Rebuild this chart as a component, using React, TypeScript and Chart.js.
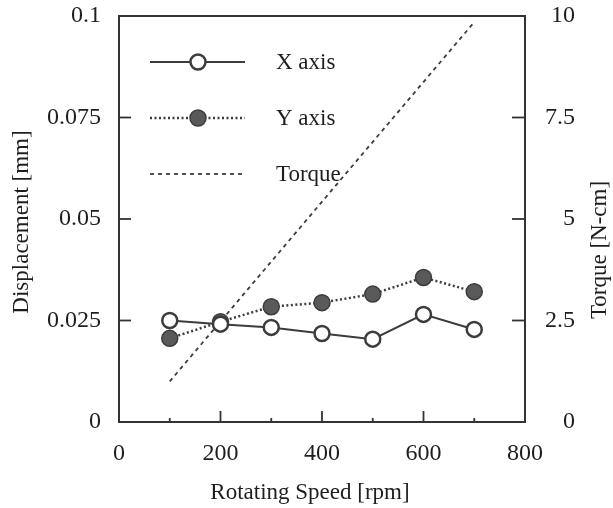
import { useEffect, useRef } from "react";
import { Chart, registerables } from "chart.js";

Chart.register(...registerables);

const rpm = [100, 200, 300, 400, 500, 600, 700];
const xAxisDisp = [0.025, 0.0241, 0.0233, 0.0218, 0.0204, 0.0265, 0.0228];
const yAxisDisp = [0.0206, 0.0247, 0.0284, 0.0294, 0.0315, 0.0356, 0.0321];
const torqueRpm = [100, 700];
const torqueVals = [1.0, 9.85];

const xTickLabels: Record<number, string> = { 0: "0", 200: "200", 400: "400", 600: "600", 800: "800" };
const yTickLabels = ["0", "0.025", "0.05", "0.075", "0.1"];
const y1TickLabels = ["0", "2.5", "5", "7.5", "10"];

const legendLabels = ["X axis", "Y axis", "Torque"];
const xTitle = "Rotating Speed [rpm]";
const yTitle = "Displacement [mm]";
const y1Title = "Torque [N-cm]";

const FONT = "'Liberation Serif', 'Times New Roman', serif";
const INK = "#1e1e1e";
const LINE = "#3c3c3c";

const zeroPad = (s: any) => {
  s.paddingTop = 0;
  s.paddingBottom = 0;
  s.paddingLeft = 0;
  s.paddingRight = 0;
};

export default function App() {
  const ref = useRef<HTMLCanvasElement>(null);

  useEffect(() => {
    if (!ref.current) return;

    const framePlugin = {
      id: "framePlugin",
      afterDatasetsDraw(chart: any) {
        const { ctx, chartArea: a, scales } = chart;
        ctx.save();
        ctx.strokeStyle = "#333";
        ctx.lineWidth = 2;
        ctx.setLineDash([]);
        ctx.strokeRect(a.left, a.top, a.right - a.left, a.bottom - a.top);
        ctx.lineWidth = 1.8;
        for (let v = 100; v < 800; v += 100) {
          const px = scales.x.getPixelForValue(v);
          const len = v % 200 === 0 ? 11 : 4;
          ctx.beginPath();
          ctx.moveTo(px, a.bottom);
          ctx.lineTo(px, a.bottom - len);
          ctx.stroke();
        }
        for (let i = 1; i < 4; i++) {
          const py = scales.y.getPixelForValue(i * 0.025);
          ctx.beginPath();
          ctx.moveTo(a.left, py);
          ctx.lineTo(a.left + 12, py);
          ctx.stroke();
          const py1 = scales.y1.getPixelForValue(i * 2.5);
          ctx.beginPath();
          ctx.moveTo(a.right, py1);
          ctx.lineTo(a.right - 13, py1);
          ctx.stroke();
        }
        ctx.restore();
      },
      afterDraw(chart: any) {
        const { ctx } = chart;
        ctx.save();
        ctx.fillStyle = INK;
        ctx.font = `23px ${FONT}`;
        ctx.textAlign = "center";
        ctx.textBaseline = "middle";
        ctx.fillText(xTitle, 310, 493);
        ctx.save();
        ctx.translate(22, 222);
        ctx.rotate(-Math.PI / 2);
        ctx.fillText(yTitle, 0, 0);
        ctx.restore();
        ctx.save();
        ctx.translate(600, 250);
        ctx.rotate(-Math.PI / 2);
        ctx.fillText(y1Title, 0, 0);
        ctx.restore();

        const rows = [62, 118, 174];
        const x0 = 150, x1 = 245, mx = 198;
        ctx.strokeStyle = LINE;
        ctx.lineWidth = 2;
        ctx.setLineDash([]);
        ctx.beginPath();
        ctx.moveTo(x0, rows[0]);
        ctx.lineTo(x1, rows[0]);
        ctx.stroke();
        ctx.fillStyle = "#fff";
        ctx.lineWidth = 2.5;
        ctx.beginPath();
        ctx.arc(mx, rows[0], 7.5, 0, Math.PI * 2);
        ctx.fill();
        ctx.stroke();
        ctx.lineWidth = 2.5;
        ctx.setLineDash([2, 2.5]);
        ctx.beginPath();
        ctx.moveTo(x0, rows[1]);
        ctx.lineTo(x1, rows[1]);
        ctx.stroke();
        ctx.setLineDash([]);
        ctx.fillStyle = "#5a5a5a";
        ctx.lineWidth = 1.5;
        ctx.strokeStyle = "#3c3c3c";
        ctx.beginPath();
        ctx.arc(mx, rows[1], 8, 0, Math.PI * 2);
        ctx.fill();
        ctx.stroke();
        ctx.strokeStyle = LINE;
        ctx.lineWidth = 1.8;
        ctx.setLineDash([4, 4]);
        ctx.beginPath();
        ctx.moveTo(x0, rows[2]);
        ctx.lineTo(x1, rows[2]);
        ctx.stroke();
        ctx.setLineDash([]);

        ctx.fillStyle = INK;
        ctx.font = `23px ${FONT}`;
        ctx.textAlign = "left";
        legendLabels.forEach((t, i) => ctx.fillText(t, 276, rows[i] + 1));
        ctx.restore();
      },
    };

    const tickFont = { family: FONT, size: 24 };

    const chart = new Chart(ref.current, {
      type: "line",
      data: {
        datasets: [
          {
            label: legendLabels[0],
            data: rpm.map((r, i) => ({ x: r, y: xAxisDisp[i] })),
            yAxisID: "y",
            borderColor: LINE,
            borderWidth: 2,
            pointRadius: 7.5,
            pointBorderWidth: 2.5,
            pointBackgroundColor: "#fff",
            pointBorderColor: LINE,
            order: 1,
          },
          {
            label: legendLabels[1],
            data: rpm.map((r, i) => ({ x: r, y: yAxisDisp[i] })),
            yAxisID: "y",
            borderColor: LINE,
            borderWidth: 2.5,
            borderDash: [2, 2.5],
            pointRadius: 8,
            pointBorderWidth: 1.5,
            pointBackgroundColor: "#5a5a5a",
            pointBorderColor: "#3c3c3c",
            order: 2,
          },
          {
            label: legendLabels[2],
            data: torqueRpm.map((r, i) => ({ x: r, y: torqueVals[i] })),
            yAxisID: "y1",
            borderColor: LINE,
            borderWidth: 1.8,
            borderDash: [4, 4],
            pointRadius: 0,
            order: 3,
          },
        ],
      },
      options: {
        animation: false,
        responsive: false,
        layout: { padding: { top: 16, right: 38, left: 0, bottom: 0 } },
        plugins: { legend: { display: false }, tooltip: { enabled: false } },
        scales: {
          x: {
            type: "linear",
            min: 0,
            max: 800,
            grid: { display: false, drawTicks: false },
            border: { display: false },
            ticks: {
              stepSize: 100,
              autoSkip: false,
              maxRotation: 0,
              padding: 17,
              color: INK,
              font: tickFont,
              callback: (v: any) => xTickLabels[v] ?? "",
            },
            afterFit: (s: any) => {
              s.height = 86;
              zeroPad(s);
            },
          },
          y: {
            position: "left",
            min: 0,
            max: 0.1,
            grid: { display: false, drawTicks: false },
            border: { display: false },
            ticks: {
              stepSize: 0.025,
              padding: 18,
              color: INK,
              font: tickFont,
              callback: (_v: any, i: number) => yTickLabels[i],
            },
            afterFit: (s: any) => {
              s.width = 119;
              zeroPad(s);
            },
          },
          y1: {
            position: "right",
            min: 0,
            max: 10,
            grid: { display: false, drawTicks: false },
            border: { display: false },
            ticks: {
              stepSize: 2.5,
              padding: 10,
              crossAlign: "far",
              color: INK,
              font: tickFont,
              callback: (_v: any, i: number) => y1TickLabels[i],
            },
            afterFit: (s: any) => {
              s.width = 50;
              zeroPad(s);
            },
          },
        },
      },
      plugins: [framePlugin],
    } as any);

    return () => chart.destroy();
  }, []);

  return (
    <div style={{ position: "absolute", left: 0, top: 0, width: 613, height: 508, background: "#fff" }}>
      <canvas ref={ref} width={613} height={508} style={{ width: 613, height: 508, display: "block" }} />
    </div>
  );
}
